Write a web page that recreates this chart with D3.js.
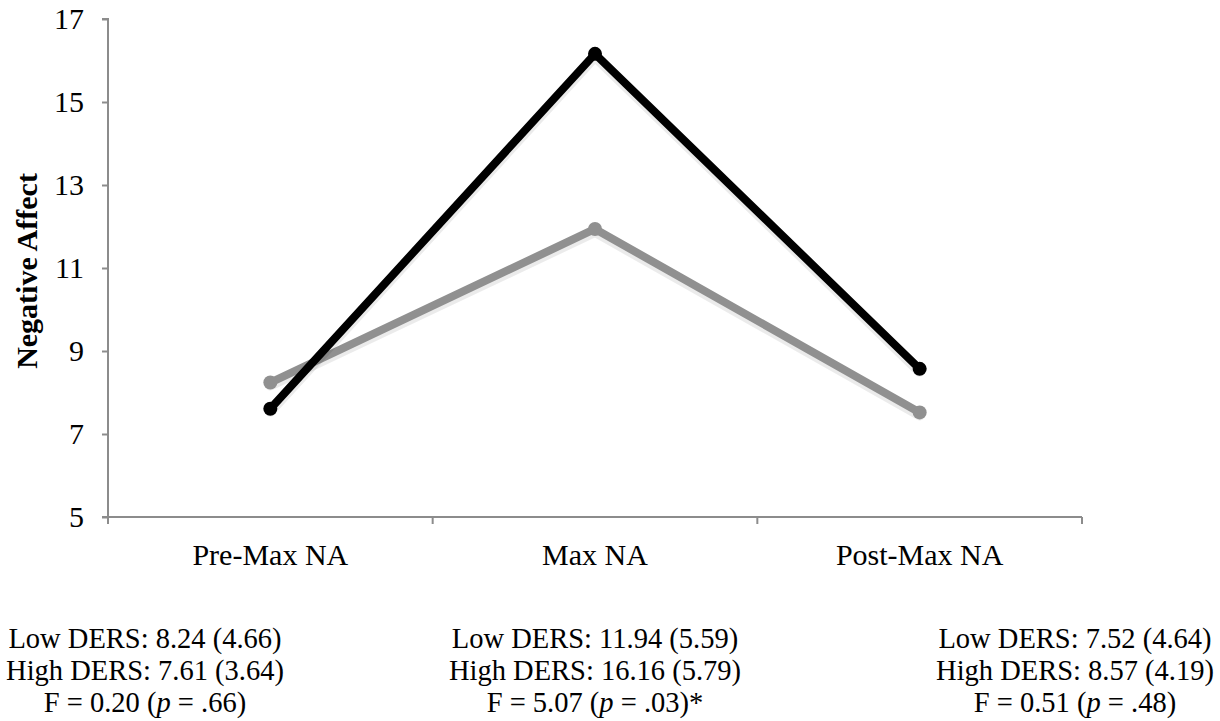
<!DOCTYPE html>
<html>
<head>
<meta charset="utf-8">
<script src="https://cdn.jsdelivr.net/npm/d3@7"></script>
</head>
<body style="margin:0;background:#fff">
<svg id="chart" width="1220" height="721" style="display:block;font-family:'Liberation Serif',serif"></svg>
<script>
const categories = ["Pre-Max NA", "Max NA", "Post-Max NA"];
const lowDERS = [8.24, 11.94, 7.52];
const highDERS = [7.61, 16.16, 8.57];
const yTicks = [5, 7, 9, 11, 13, 15, 17];
const yLabel = "Negative Affect";
const lowSD = [4.66, 5.59, 4.64];
const highSD = [3.64, 5.79, 4.19];
const fValues = ["0.20", "5.07", "0.51"];
const pValues = [".66", ".03", ".48"];
const sigMarks = ["", "*", ""];
const noteCenters = [145, 595, 1075];

(function () {
const FONT = "Liberation Serif";
const svg = d3.select("#chart");
const mLeft = 108, mRight = 1082, mTop = 19, mBottom = 517;

const x = d3.scaleBand().domain(categories).range([mLeft, mRight]).padding(0);
const y = d3.scaleLinear().domain([5, 17]).range([mBottom, mTop]);
const cx = c => x(c) + x.bandwidth() / 2;

// Y axis
const yAxis = svg.append("g").attr("transform", `translate(${mLeft},0)`)
  .call(d3.axisLeft(y).tickValues(yTicks).tickSize(6).tickPadding(18).tickFormat(d3.format("d")));
yAxis.attr("font-family", FONT);
yAxis.select(".domain").attr("stroke", "#8c8c8c").attr("stroke-width", 2).attr("d", `M-6,${mTop}H0V${mBottom}H-6`);
yAxis.selectAll(".tick line").attr("stroke", "#8c8c8c").attr("stroke-width", 2);
yAxis.selectAll(".tick text").attr("font-family", FONT).style("font-family", FONT).style("font-size", "30px").attr("fill", "#000").attr("dy", "0.33em");

// X axis
const xAxis = svg.append("g").attr("transform", `translate(0,${mBottom})`)
  .call(d3.axisBottom(x).tickSize(0).tickFormat(""));
xAxis.select(".domain").attr("stroke", "#8c8c8c").attr("stroke-width", 2).attr("d", `M${mLeft},0H${mRight}`);
xAxis.selectAll(".tick").remove();
const bounds = categories.map(c => x(c)).concat([x(categories[categories.length - 1]) + x.bandwidth()]);
xAxis.selectAll("line.bt").data(bounds).enter().append("line")
  .attr("x1", d => d).attr("x2", d => d).attr("y1", 0).attr("y2", 7)
  .attr("stroke", "#8c8c8c").attr("stroke-width", 2);

svg.append("g").selectAll("text").data(categories).enter().append("text")
  .attr("x", d => cx(d)).attr("y", 565).attr("text-anchor", "middle")
  .attr("font-family", FONT).style("font-family", FONT).style("font-size", "30px").attr("fill", "#000").text(d => d);

// Y label
svg.append("text")
  .attr("transform", `translate(37,${(mTop + mBottom) / 2 + 3}) rotate(-90)`)
  .attr("text-anchor", "middle")
  .attr("font-family", FONT).style("font-family", FONT).style("font-size", "30px").style("font-weight", "bold")
  .attr("fill", "#000")
  .text(yLabel);

// Lines (soft shadow drawn as offset translucent copy)
const line = d3.line().x((d, i) => cx(categories[i])).y(d => y(d));
const series = [
  { values: lowDERS, color: "#909090" },
  { values: highDERS, color: "#000000" }
];
series.forEach(s => {
  const g = svg.append("g");
  g.append("path").datum(s.values).attr("d", line)
    .attr("transform", "translate(0,3)")
    .attr("fill", "none").attr("stroke", "#000").attr("stroke-opacity", 0.08).attr("stroke-width", 10)
    .attr("stroke-linejoin", "round").attr("stroke-linecap", "round");
  g.append("path").datum(s.values).attr("d", line)
    .attr("fill", "none").attr("stroke", s.color).attr("stroke-width", 8)
    .attr("stroke-linejoin", "round");
  g.selectAll("circle").data(s.values).enter().append("circle")
    .attr("cx", (d, i) => cx(categories[i])).attr("cy", d => y(d)).attr("r", 7)
    .attr("fill", s.color);
});

// Notes
const notes = svg.append("g");
const noteText = (xc, yy) => notes.append("text").attr("x", xc).attr("y", yy).attr("text-anchor", "middle")
  .attr("font-family", FONT).style("font-family", FONT).style("font-size", "28.5px").attr("fill", "#000");
categories.forEach((c, i) => {
  const xc = noteCenters[i];
  noteText(xc, 648).text(`Low DERS: ${lowDERS[i].toFixed(2)} (${lowSD[i].toFixed(2)})`);
  noteText(xc, 680).text(`High DERS: ${highDERS[i].toFixed(2)} (${highSD[i].toFixed(2)})`);
  const t = noteText(xc, 712);
  t.append("tspan").text(`F = ${fValues[i]} (`);
  t.append("tspan").style("font-style", "italic").text("p");
  t.append("tspan").text(` = ${pValues[i]})${sigMarks[i]}`);
});
})();
</script>
</body>
</html>
